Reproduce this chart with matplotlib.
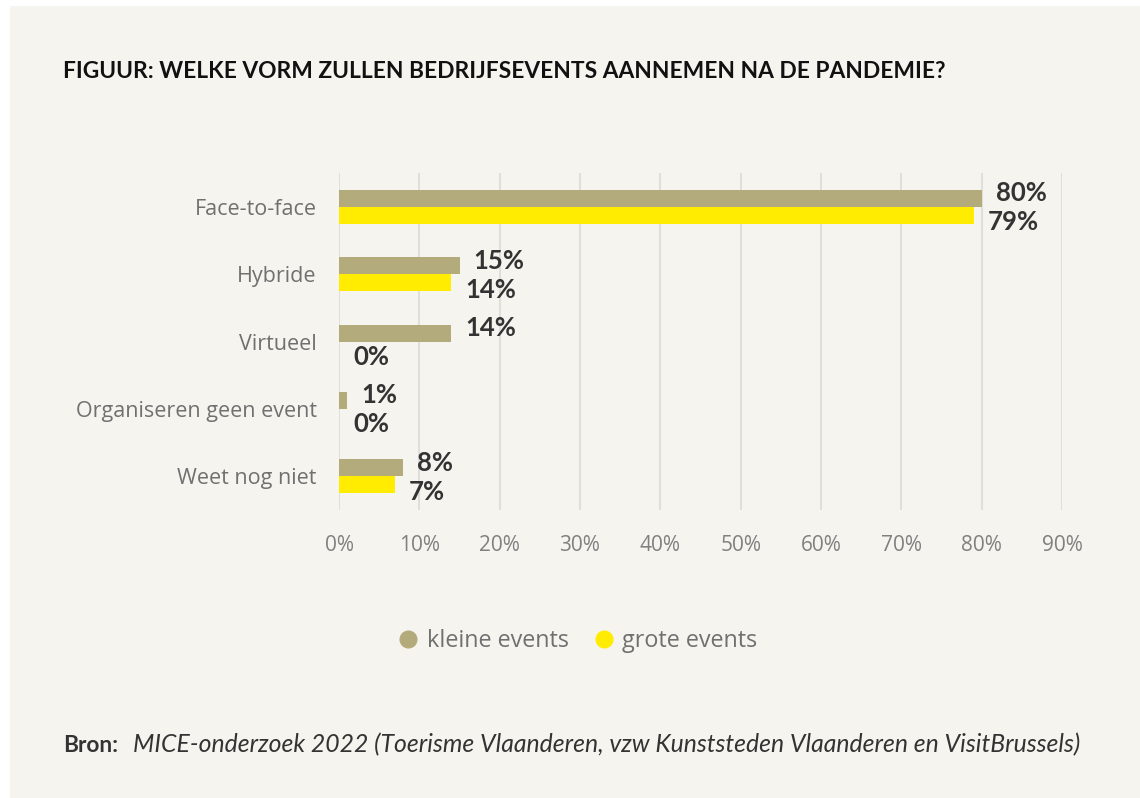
import numpy as np
import matplotlib.pyplot as plt
from matplotlib.patches import Rectangle
from matplotlib.lines import Line2D

# data
categories = ['Face-to-face', 'Hybride', 'Virtueel', 'Organiseren geen event', 'Weet nog niet']
kleine = [80, 15, 14, 1, 8]
grote = [79, 14, 0, 0, 7]
ticks = [0, 10, 20, 30, 40, 50, 60, 70, 80, 90]

bg = '#f5f4ee'
c_kleine = '#b4ab7c'
c_grote = '#ffec00'

fig = plt.figure(figsize=(11.4, 7.98), dpi=100)
fig.patch.set_facecolor('white')
fig.patches.append(Rectangle((10/1140, 0), 1, 1 - 6/798, transform=fig.transFigure,
                             facecolor=bg, edgecolor='none', zorder=-10))

ax = fig.add_axes([339/1140, 1 - 510/798, (1062 - 339)/1140, (510 - 173)/798])
ax.set_facecolor(bg)

y = np.arange(len(categories))
h = 0.25
ax.barh(y - h/2, kleine, height=h, color=c_kleine, zorder=3)
ax.barh(y + h/2, grote, height=h, color=c_grote, zorder=3)

ax.set_xlim(0, 90)
ax.set_ylim(len(categories) - 0.5, -0.5)
ax.set_xticks(ticks)
ax.set_xticklabels([f'{t}%' for t in ticks], family='Open Sans', fontsize=15, color='#808080')
ax.set_yticks(y)
ax.set_yticklabels(categories, family='Open Sans', fontsize=15.5, color='#707070')
ax.tick_params(length=0)
ax.tick_params(axis='x', pad=18)
ax.tick_params(axis='y', pad=16)
ax.grid(axis='x', color='#e0dfda', linewidth=1.5, zorder=0)
for s in ax.spines.values():
    s.set_visible(False)

# value labels (kleine a bit above bar, grote a bit below)
for i in range(len(categories)):
    ax.annotate(f'{kleine[i]}%', (kleine[i], y[i] - h/2), xytext=(14, 5), textcoords='offset pixels',
                va='center', ha='left', family='Lato', weight='bold', fontsize=18.5, color='#333333')
    ax.annotate(f'{grote[i]}%', (grote[i], y[i] + h/2), xytext=(14, -7), textcoords='offset pixels',
                va='center', ha='left', family='Lato', weight='bold', fontsize=18.5, color='#333333')

# title
fig.text(63/1140, 1 - 72/798, 'FIGUUR: WELKE VORM ZULLEN BEDRIJFSEVENTS AANNEMEN NA DE PANDEMIE?',
         family='Lato', weight='bold', fontsize=16.4, color='#111111', va='center', ha='left')

# legend
handles = [Line2D([], [], marker='o', linestyle='none', markersize=12, color=c_kleine),
           Line2D([], [], marker='o', linestyle='none', markersize=12, color=c_grote)]
fig.legend(handles, ['kleine events', 'grote events'], loc='center', bbox_to_anchor=(577/1140, 1 - 641/798),
           ncol=2, frameon=False, handletextpad=0.3, columnspacing=1.0, handlelength=1,
           prop={'family': 'Open Sans', 'size': 16.8}, labelcolor='#707070')

# source
fig.text(63/1140, 1 - 745/798, 'Bron:', family='Lato', weight='bold', fontsize=16.4, color='#333333',
         va='center', ha='left')
fig.text(133/1140, 1 - 745/798,
         'MICE-onderzoek 2022 (Toerisme Vlaanderen, vzw Kunststeden Vlaanderen en VisitBrussels)',
         family='Lato', style='italic', fontsize=17.8, color='#333333', va='center', ha='left')

fig.savefig('out.png', dpi=100, facecolor=fig.get_facecolor())
